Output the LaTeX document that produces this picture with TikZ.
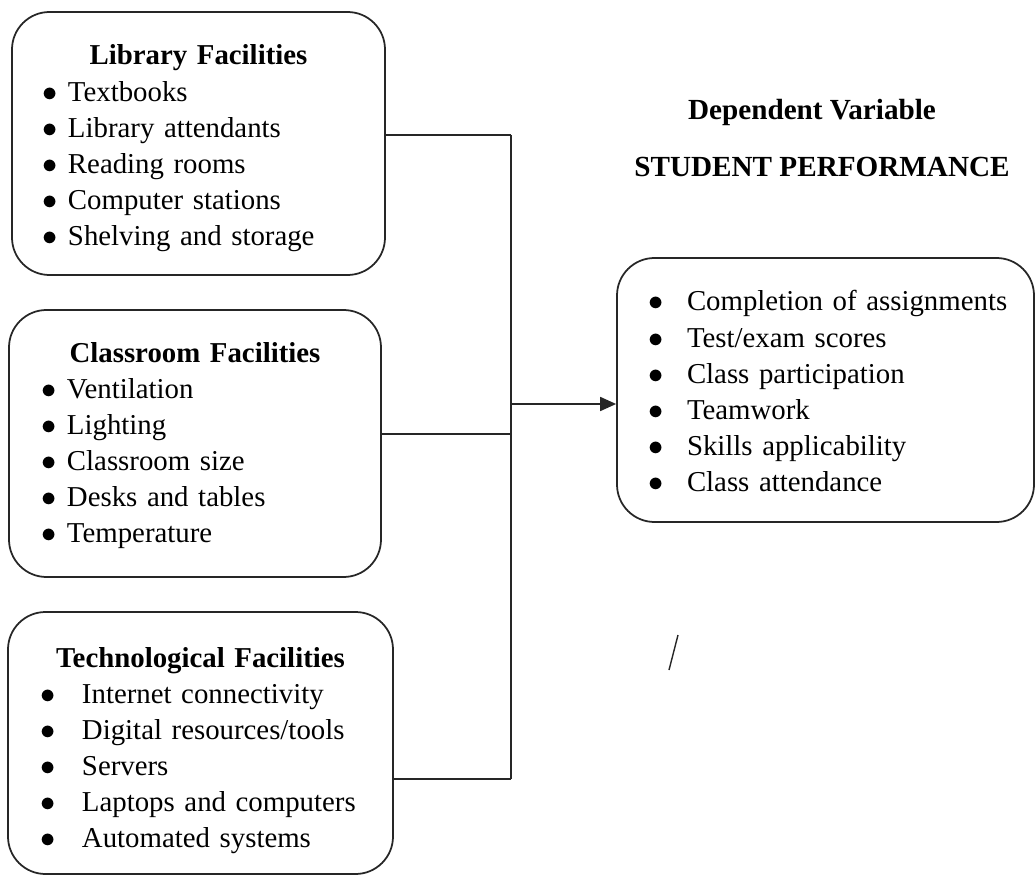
\documentclass[tikz,border=0pt]{standalone}
\usepackage{fontspec}
\setmainfont{Liberation Serif}
\usetikzlibrary{arrows.meta}

% bullet lines: bullet centred at \bulx, text \bulgap further right
\newlength\bulx
\newlength\bulgap
\newcommand{\bul}[1]{\hspace*{\bulx}\makebox[0pt]{$\bullet$}\hspace*{\bulgap}#1\par}
\newcommand{\boxtitle}[1]{{\centering\bfseries #1\par}}

\tikzset{
  facility/.style={draw=black!85, line width=1pt, rounded corners=0.75cm, inner sep=0pt,
    align=left, font=\fontsize{16.4pt}{20.5pt}\selectfont},
  link/.style={draw=black!85, line width=1pt},
  heading/.style={font=\fontsize{16.6pt}{20.5pt}\selectfont\bfseries, anchor=base}
}

\begin{document}
\begin{tikzpicture}
    \useasboundingbox (0,0) rectangle (20.70,17.54);

    % independent variables
    \node[facility, text width=7.46cm, text height=1.06cm, text depth=4.20cm] (lib) at (3.97,14.67) {%
        \setlength\bulx{0.76cm}\setlength\bulgap{0.36cm}%
        \boxtitle{Library Facilities}
        \bul{Textbooks}
        \bul{Library attendants}
        \bul{Reading rooms}
        \bul{Computer stations}
        \bul{Shelving and storage}};

    \node[facility, text width=7.44cm, text height=1.04cm, text depth=4.30cm] (cls) at (3.90,8.67) {%
        \setlength\bulx{0.80cm}\setlength\bulgap{0.36cm}%
        \boxtitle{Classroom Facilities}
        \bul{Ventilation}
        \bul{Lighting}
        \bul{Classroom size}
        \bul{Desks and tables}
        \bul{Temperature}};

    \node[facility, text width=7.70cm, text height=1.10cm, text depth=4.14cm] (tech) at (4.01,2.68) {%
        \setlength\bulx{0.80cm}\setlength\bulgap{0.68cm}%
        \boxtitle{Technological Facilities}
        \bul{Internet connectivity}
        \bul{Digital resources/tools}
        \bul{Servers}
        \bul{Laptops and computers}
        \bul{Automated systems}};

    % dependent variable
    \node[heading] (dv) at (16.24,15.14) {Dependent Variable};
    \node[heading] (sp) at (16.44,14.00) {STUDENT PERFORMANCE};

    \node[facility, text width=8.34cm, text height=1.06cm, text depth=4.22cm] (perf) at (16.51,9.74) {%
        \setlength\bulx{0.78cm}\setlength\bulgap{0.62cm}%
        \bul{Completion of assignments}
        \bul{Test/exam scores}
        \bul{Class participation}
        \bul{Teamwork}
        \bul{Skills applicability}
        \bul{Class attendance}};

    % joining bar and arrow
    \coordinate (b1) at (10.22,14.84);
    \coordinate (b2) at (10.22,8.86);
    \coordinate (b3) at (10.22,1.96);
    \coordinate (bar) at (10.22,9.46);

    \draw[link] (lib.east |- b1) -- (b1);
    \draw[link] (cls.east |- b2) -- (b2);
    \draw[link] (tech.east |- b3) -- (b3);
    \draw[link] (b1) -- (b3);
    \draw[link, -{Triangle[length=0.32cm, width=0.28cm]}] (bar) -- (bar -| perf.west);

    % stray mark
    \draw[link, line width=0.8pt] (13.56,4.84) -- (13.38,4.14);
\end{tikzpicture}
\end{document}
